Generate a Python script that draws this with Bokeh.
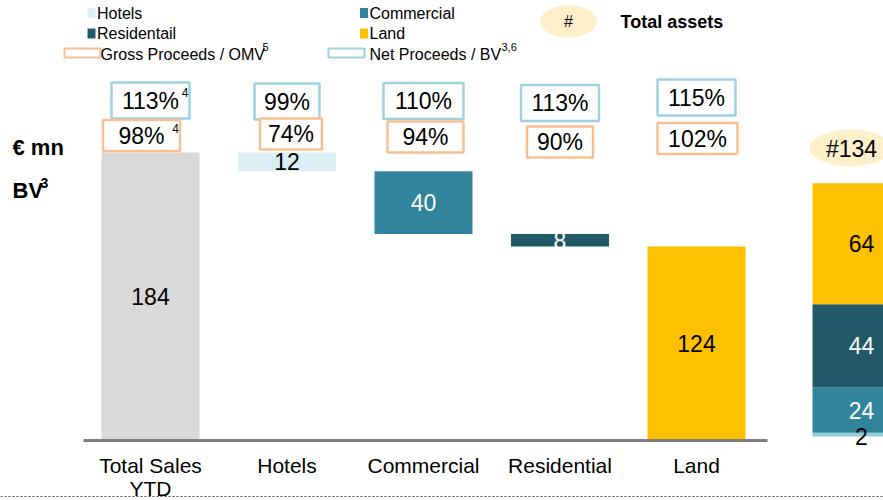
from bokeh.plotting import figure
from bokeh.models import Range1d
from bokeh.core.properties import value
from bokeh.embed import file_html
from bokeh.resources import INLINE

# ---------------- data ----------------
categories = ["Total Sales\nYTD", "Hotels", "Commercial", "Residential", "Land"]
sales_bv = [184, 12, 40, 8, 124]
net_proceeds_bv = ["113%", "99%", "110%", "113%", "115%"]
gross_proceeds_omv = ["98%", "74%", "94%", "90%", "102%"]
asset_types = ["Hotels", "Commercial", "Residentail", "Land"]
total_assets = [2, 24, 44, 64]
total_assets_label = "#134"

# ---------------- style / layout ----------------
FONT = "Liberation Sans"
GRAY, HOT, COM, RES, LAND, LIGHT = "#d9d9d9", "#daeef3", "#31849b", "#215968", "#ffc000", "#93cddd"
BLUE_BOX, ORANGE_BOX, CREAM = "#9fd2e0", "#f8c091", "#fdefca"
bar_colors = [GRAY, HOT, COM, RES, LAND]
bar_text_colors = ["black", "black", "white", "white", "black"]
stack_colors = [LIGHT, COM, RES, LAND]
stack_text_colors = ["black", "white", "white", "black"]

W, H = 883, 500
OFF = 0
X0, DX = 150.0, 136.5          # page px of first category centre, px per category
Y0, YS = 440.0, 1.565          # page px of zero, px per unit (main)
RY0, RYS = 436.0, 1.89         # right-hand stacked bar scale


def dx(px):
    return (px - X0) / DX


def dy(py):
    return (Y0 - py) / YS


p = figure(width=W, height=H, output_backend="svg", toolbar_location=None,
           x_range=Range1d(dx(OFF), dx(OFF + W)), y_range=Range1d(dy(OFF + H), dy(OFF)),
           min_border=0, min_border_left=0, min_border_right=0,
           min_border_top=0, min_border_bottom=0)
p.extra_y_ranges = {"assets": Range1d((RY0 - (OFF + H)) / RYS, (RY0 - OFF) / RYS)}
p.axis.visible = False
p.grid.visible = False
p.outline_line_color = None
p.background_fill_color = "white"
p.border_fill_color = "white"


def txt(x, y, s, size, color="black", align="center", bold=False, rng="default", baseline="middle"):
    p.text(x=[x], y=[y], text=[s], text_font=value(FONT), text_font_size=f"{size}px",
           text_color=color, text_align=align, text_baseline=baseline,
           text_font_style="bold" if bold else "normal", y_range_name=rng)


# ---------------- waterfall ----------------
xs = list(range(len(categories)))
tops, bottoms = [], []
running = 0
for i, v in enumerate(sales_bv):
    if i == 0:
        tops.append(v)
        bottoms.append(0)
        running = v
    else:
        tops.append(running)
        bottoms.append(running - v)
        running -= v

BAR_W = 98 / DX
p.vbar(x=xs, top=tops, bottom=bottoms, width=BAR_W, fill_color=bar_colors, line_color=None)

for i, v in enumerate(sales_bv):
    txt(xs[i], (tops[i] + bottoms[i]) / 2, str(v), 23, bar_text_colors[i])

# baseline
p.line(x=[dx(83), dx(767)], y=[0, 0], line_color="#7f7f7f", line_width=3)

# category labels
p.text(x=xs, y=[dy(453)] * len(xs), text=categories, text_font=value(FONT), text_font_size="21px",
       text_align="center", text_baseline="top", text_line_height=1.0, text_color="black")

# ---------------- proceed boxes ----------------
blue_y = [100, 101, 100.5, 102.5, 97]
blue_w = [78, 65, 80, 78, 78]
orange_y = [135, 133.5, 136.5, 141.5, 138]
orange_dx = [-9, 4, 2, 0, 1]
orange_w = [77, 62, 76, 66, 80]
for i in xs:
    p.rect(x=[xs[i]], y=[dy(blue_y[i])], width=blue_w[i], height=36, width_units="screen",
           height_units="screen", fill_color="white", line_color=BLUE_BOX, line_width=2.5)
    ox = xs[i] + orange_dx[i] / DX
    p.rect(x=[ox], y=[dy(orange_y[i])], width=orange_w[i], height=31, width_units="screen",
           height_units="screen", fill_color="white", line_color=ORANGE_BOX, line_width=2.5)
    if i == 0:
        txt(dx(150), dy(blue_y[i]), net_proceeds_bv[i], 23)
        txt(dx(184.5), dy(blue_y[i] - 8), "4", 12)
        txt(dx(141), dy(orange_y[i]), gross_proceeds_omv[i], 23)
        txt(dx(175), dy(orange_y[i] - 7), "4", 12)
    else:
        txt(xs[i], dy(blue_y[i]), net_proceeds_bv[i], 23)
        txt(ox, dy(orange_y[i]), gross_proceeds_omv[i], 23)

# ---------------- right stacked bar (total assets) ----------------
RX = dx(861)
s_tops, s_bottoms, acc = [], [], 0
for v in total_assets:
    s_bottoms.append(acc)
    acc += v
    s_tops.append(acc)
p.vbar(x=[RX] * len(total_assets), top=s_tops, bottom=s_bottoms, width=BAR_W,
       fill_color=stack_colors, line_color=None, y_range_name="assets")
for i, v in enumerate(total_assets):
    yy = (s_tops[i] + s_bottoms[i]) / 2
    if v < 5:
        yy = s_bottoms[i]
    txt(RX, yy, str(v), 23, stack_text_colors[i], rng="assets")
p.ellipse(x=[dx(850)], y=[dy(147.5)], width=82, height=37, width_units="screen",
          height_units="screen", fill_color=CREAM, line_color=None)
txt(dx(851), dy(148), total_assets_label, 23)

# ---------------- axis titles ----------------
txt(dx(12), dy(147), "€ mn", 22, align="left", bold=True)
txt(dx(12), dy(190), "BV", 22, align="left", bold=True)
txt(dx(40), dy(182), "3", 14, align="left", bold=True)

# ---------------- legend ----------------
leg_sq = [(91, 12.5, HOT, "Hotels"), (363.5, 12.5, COM, "Commercial"),
          (91, 33, RES, "Residentail"), (363.5, 33, LAND, "Land")]
for (lx, ly, c, lab) in leg_sq:
    p.rect(x=[dx(lx)], y=[dy(ly)], width=8, height=10, width_units="screen", height_units="screen",
           fill_color=c, line_color=None)
    txt(dx(lx + 5.5), dy(ly), lab, 16, align="left")
p.rect(x=[dx(82)], y=[dy(52.5)], width=36, height=9, width_units="screen", height_units="screen",
       fill_color="white", line_color=ORANGE_BOX, line_width=2)
txt(dx(100), dy(54), "Gross Proceeds / OMV", 16, align="left")
txt(dx(262), dy(46), "5", 11, align="left")
p.rect(x=[dx(346)], y=[dy(52.5)], width=36, height=9, width_units="screen", height_units="screen",
       fill_color="white", line_color=BLUE_BOX, line_width=2)
txt(dx(369), dy(54), "Net Proceeds / BV", 16, align="left")
txt(dx(501), dy(46), "3,6", 11, align="left")

p.ellipse(x=[dx(568)], y=[dy(21)], width=57, height=32, width_units="screen",
          height_units="screen", fill_color=CREAM, line_color=None)
txt(dx(568), dy(21), "#", 16)
txt(dx(620), dy(21), "Total assets", 18, align="left", bold=True)

# dashed footer line
p.line(x=[dx(OFF), dx(OFF + W)], y=[dy(496), dy(496)], line_color="#555555", line_width=1, line_dash="2 2")

open("out.html", "w").write(file_html(p, INLINE))
